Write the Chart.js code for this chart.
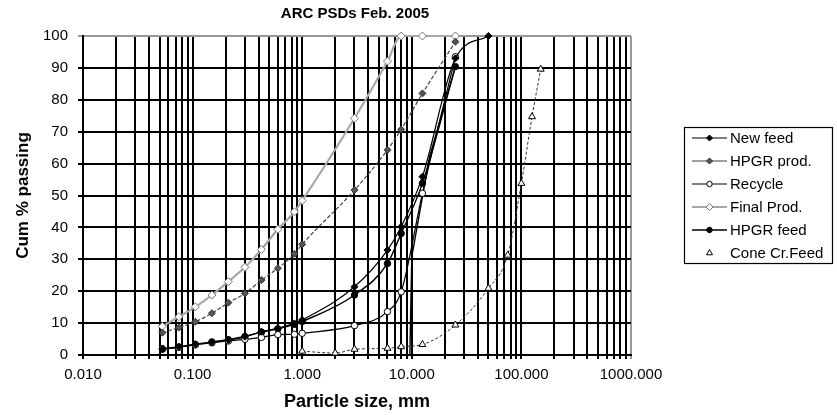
<!DOCTYPE html>
<html>
<head>
<meta charset="utf-8">
<script src="https://cdn.jsdelivr.net/npm/chart.js@4.4.0/dist/chart.umd.min.js"></script>
<style>
  html, body { margin: 0; padding: 0; background: #fff; }
  #wrap { width: 837px; height: 415px; }
</style>
</head>
<body>
<div id="wrap"><canvas id="psdChart"></canvas></div>
<script>
// sieve sizes (mm) and cumulative % passing
const sizes = [0.053, 0.075, 0.106, 0.150, 0.212, 0.300, 0.425, 0.600, 0.850, 1.0, 3.0, 6.0, 8.0, 12.5, 25, 50];
const newFeed   = [1.9, 2.6, 3.4, 4.0, 4.7, 5.7, 7.3, 8.4, 9.9, 11.0, 21.4, 32.9, 40.2, 55.9, 93.0, 100];
const hpgrProd  = [7.0, 8.6, 10.4, 13.1, 16.4, 19.3, 23.5, 27.2, 31.7, 34.7, 51.7, 64.3, 70.7, 82.0, 98.2, null];
const recycle   = [2.0, 2.4, 3.2, 3.8, 4.4, 4.9, 5.5, 6.4, 6.5, 6.8, 9.2, 13.6, 19.8, 50.7, 93.5, null];
const finalProd = [9.0, 12.0, 15.1, 18.8, 23.0, 27.5, 33.1, 39.4, 44.9, 48.4, 74.2, 92.1, 100, 100, 100, null];
const hpgrFeed  = [1.8, 2.5, 3.3, 4.1, 4.8, 5.8, 7.2, 8.2, 9.6, 10.5, 18.8, 28.7, 38.1, 53.8, 90.4, null];

const coneSizes = [1.0, 2.0, 3.0, 6.0, 8.0, 12.5, 25, 50, 75, 100, 125, 150];
const coneFeed  = [1.2, 0.6, 1.8, 2.1, 2.6, 3.3, 9.4, 20.9, 31.3, 53.8, 74.7, 89.6];

// stray segments that show up in the original (no legend entry)
const straySizes = [1.0, 1.0, 1.0, 9.6, 10.0, 14.5, 25];
const strayVals  = [6.8, 1.2, null, 0, 30.8, 62.0, 90.4];

const decades = [0.01, 0.1, 1, 10, 100, 1000];
const xTickLabels = ['0.010', '0.100', '1.000', '10.000', '100.000', '1000.000'];

const gridTicks = [];
for (let e = -2; e <= 2; e++) {
    for (let k = 1; k <= 9; k++) gridTicks.push(Number((k * Math.pow(10, e)).toPrecision(6)));
}
gridTicks.push(1000);

function pairs(xs, ys, keepGaps) {
    const pts = xs.map((x, i) => ({ x: x, y: ys[i] }));
    return keepGaps ? pts : pts.filter(p => p.y !== null);
}

Chart.defaults.font.family = '"Liberation Sans", Arial, sans-serif';
Chart.defaults.color = '#000';

const titlePlugin = {
    id: 'psdTitle',
    afterDraw(chart) {
        const ctx = chart.ctx;
        ctx.save();
        ctx.font = 'bold 15px "Liberation Sans", Arial, sans-serif';
        ctx.fillStyle = '#000';
        ctx.textAlign = 'center';
        ctx.textBaseline = 'middle';
        ctx.fillText('ARC PSDs Feb. 2005', 355, 14);
        ctx.restore();
    }
};

const legendPlugin = {
    id: 'psdLegend',
    afterDraw(chart) {
        const ctx = chart.ctx;
        ctx.save();
        ctx.fillStyle = '#fff';
        ctx.fillRect(684, 127, 149, 137);
        ctx.strokeStyle = '#000';
        ctx.lineWidth = 1.2;
        ctx.strokeRect(684.5, 127.5, 148, 136);
        ctx.font = '15px "Liberation Sans", Arial, sans-serif';
        ctx.textBaseline = 'middle';
        chart.data.datasets.slice(0, 6).forEach((ds, i) => {
            const y = 138 + i * 23;
            if (ds.legendLine !== false) {
                ctx.beginPath();
                ctx.strokeStyle = ds.borderColor;
                ctx.lineWidth = ds.borderWidth;
                ctx.setLineDash([]);
                ctx.moveTo(692, y);
                ctx.lineTo(727, y);
                ctx.stroke();
            }
            ctx.fillStyle = ds.pointBackgroundColor;
            ctx.strokeStyle = ds.pointBorderColor;
            ctx.lineWidth = 1;
            Chart.helpers.drawPoint(ctx, {
                pointStyle: ds.pointStyle, radius: ds.pointRadius - 0.5, rotation: 0, borderWidth: 1
            }, 709.5, y);
            ctx.fillStyle = '#000';
            ctx.fillText(ds.label, 730, y + 1);
        });
        ctx.restore();
    }
};

function lineSet(label, xs, ys, o) {
    return Object.assign({
        label: label,
        data: pairs(xs, ys, false),
        showLine: true,
        borderWidth: 1.2,
        cubicInterpolationMode: 'monotone',
        pointBorderWidth: 1,
        pointHoverRadius: 4,
        clip: 10
    }, o);
}

const ctx = document.getElementById('psdChart').getContext('2d');
new Chart(ctx, {
    type: 'scatter',
    data: {
        datasets: [
            lineSet('New feed', sizes, newFeed, {
                borderColor: '#000', pointStyle: 'rectRot', pointRadius: 3.5,
                pointBackgroundColor: '#000', pointBorderColor: '#000'
            }),
            lineSet('HPGR prod.', sizes, hpgrProd, {
                borderColor: '#444', pointStyle: 'rectRot', pointRadius: 3.5,
                pointBackgroundColor: '#555', pointBorderColor: '#333', borderDash: [4, 2]
            }),
            lineSet('Recycle', sizes, recycle, {
                borderColor: '#000', pointStyle: 'circle', pointRadius: 3.2,
                pointBackgroundColor: '#fff', pointBorderColor: '#000'
            }),
            lineSet('Final Prod.', sizes, finalProd, {
                borderColor: '#a8a8a8', borderWidth: 2.2, pointStyle: 'rectRot', pointRadius: 4,
                pointBackgroundColor: '#fff', pointBorderColor: '#777'
            }),
            lineSet('HPGR feed', sizes, hpgrFeed, {
                borderColor: '#000', borderWidth: 1.4, pointStyle: 'circle', pointRadius: 3.2,
                pointBackgroundColor: '#000', pointBorderColor: '#000'
            }),
            lineSet('Cone Cr.Feed', coneSizes, coneFeed, {
                borderColor: '#333', borderWidth: 1, borderDash: [3, 2], legendLine: false,
                pointStyle: 'triangle', pointRadius: 4,
                pointBackgroundColor: '#fff', pointBorderColor: '#000'
            }),
            {
                label: '',
                data: pairs(straySizes, strayVals, true),
                showLine: true,
                spanGaps: false,
                borderColor: '#000',
                borderWidth: 1.4,
                tension: 0,
                pointRadius: 0,
                clip: 10
            }
        ]
    },
    options: {
        responsive: true,
        maintainAspectRatio: false,
        animation: false,
        layout: { padding: { left: 0, right: 206, top: 36, bottom: 0 } },
        scales: {
            x: {
                type: 'logarithmic',
                min: 0.01,
                max: 1000,
                afterBuildTicks: (scale) => { scale.ticks = gridTicks.map(v => ({ value: v })); },
                afterFit: (scale) => { scale.height = 60; },
                ticks: {
                    autoSkip: false,
                    maxRotation: 0,
                    padding: 7,
                    font: { size: 15 },
                    color: '#000',
                    callback: (value) => {
                        const i = decades.indexOf(value);
                        return i >= 0 ? xTickLabels[i] : '';
                    }
                },
                grid: {
                    color: (c) => (c.tick && c.tick.value === 1000 ? '#999' : '#000'),
                    lineWidth: 2,
                    tickLength: 4
                },
                border: { color: '#000', width: 2 },
                title: {
                    display: true,
                    text: 'Particle size, mm',
                    font: { size: 18, weight: 'bold' },
                    color: '#000',
                    padding: { top: 0, bottom: 2 }
                }
            },
            y: {
                min: 0,
                max: 100,
                afterFit: (scale) => { scale.width = 83; },
                ticks: {
                    stepSize: 10,
                    padding: 10,
                    font: { size: 15 },
                    color: '#000'
                },
                grid: {
                    color: (c) => (c.tick && c.tick.value === 100 ? '#999' : '#000'),
                    lineWidth: 2,
                    tickLength: 5
                },
                border: { color: '#000', width: 2 },
                title: {
                    display: true,
                    text: 'Cum % passing',
                    font: { size: 17, weight: 'bold' },
                    color: '#000',
                    padding: { top: 13, bottom: 0 }
                }
            }
        },
        plugins: {
            legend: { display: false },
            tooltip: { enabled: false }
        }
    },
    plugins: [titlePlugin, legendPlugin]
});
</script>
</body>
</html>
